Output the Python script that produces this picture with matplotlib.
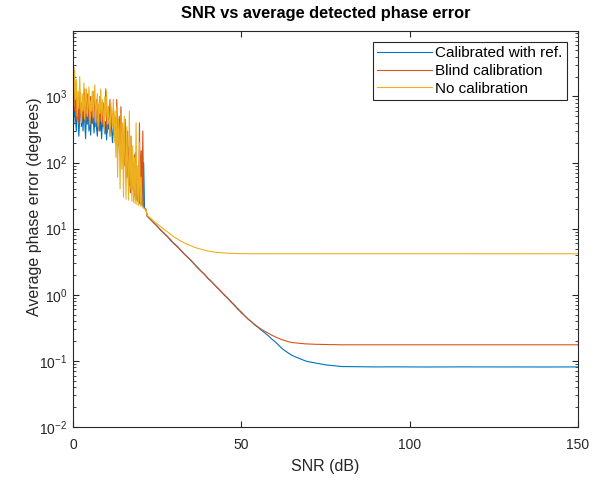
#!/usr/bin/env python3
"""SNR vs average detected phase error, three calibration modes (log y)."""
import numpy as np
import matplotlib
matplotlib.use("Agg")
import matplotlib.pyplot as plt
from matplotlib.ticker import LogLocator, NullFormatter

plt.rcParams["font.family"] = ["Liberation Sans", "DejaVu Sans"]
plt.rcParams["mathtext.fontset"] = "custom"
plt.rcParams["mathtext.rm"] = "Liberation Sans"
plt.rcParams["mathtext.it"] = "Liberation Sans"

# --- noisy low-SNR part, 0 .. 21.75 dB in 0.25 dB steps ---------------------
snr_noisy = np.arange(0, 22, 0.25)

blue_noisy = [
    620, 380, 900, 450, 300, 700, 520, 250, 480, 820, 350, 560,
    300, 650, 420, 230, 540, 380, 720, 300, 460, 260, 600, 390,
    520, 280, 430, 700, 330, 250, 560, 380, 300, 480, 230, 410,
    350, 600, 270, 420, 220, 500, 320, 380, 250, 450, 300, 200,
    380, 260, 420, 190, 300, 140, 350, 230, 280, 170, 320, 210,
    150, 260, 90, 200, 60, 170, 120, 45, 160, 35, 110, 40,
    90, 32, 140, 28, 75, 26, 60, 24, 130, 23, 150, 22,
    100, 21, 19.5, 19,
]
red_noisy = [
    900, 2800, 600, 1400, 450, 1000, 700, 380, 1200, 550, 800, 420,
    950, 500, 1300, 380, 700, 1100, 450, 820, 350, 1000, 520, 680,
    400, 1200, 600, 350, 900, 480, 750, 300, 1000, 420, 650, 380,
    800, 330, 600, 1300, 420, 280, 700, 450, 900, 300, 550, 380,
    650, 260, 480, 200, 900, 320, 180, 500, 250, 700, 150, 380,
    200, 90, 450, 120, 60, 300, 45, 180, 35, 250, 40, 100,
    30, 130, 28, 80, 27, 60, 25, 400, 24, 150, 23, 300,
    21, 20.5, 20, 19.5,
]
yellow_noisy = [
    1500, 700, 2500, 900, 1800, 500, 1200, 650, 2000, 800, 400, 1100,
    600, 1600, 450, 900, 1300, 500, 750, 1400, 380, 850, 600, 1200,
    480, 950, 1500, 400, 700, 1100, 350, 800, 550, 1300, 420, 900,
    600, 300, 1000, 500, 1200, 380, 700, 450, 250, 800, 550, 350,
    900, 200, 600, 120, 700, 60, 450, 300, 40, 550, 80, 400,
    30, 500, 150, 28, 350, 90, 27, 600, 40, 250, 26, 180,
    25, 120, 24, 400, 23, 90, 22.5, 200, 22, 60, 21.5, 21,
    20.5, 20, 19.5, 19,
]

# --- smooth part: 22 .. 80 dB every 1 dB, then 85 .. 150 dB every 5 dB ------
snr_smooth = list(range(22, 81)) + list(range(85, 151, 5))

blue_smooth = [
    15.5, 13.9, 12.2, 11.0, 9.5, 8.6, 7.7, 6.6, 6.0, 5.4,
    4.7, 4.15, 3.75, 3.3, 2.95, 2.55, 2.3, 2.05, 1.78, 1.6,
    1.43, 1.25, 1.13, 0.98, 0.89, 0.77, 0.70, 0.60, 0.55, 0.48,
    0.43, 0.39, 0.35, 0.32, 0.29, 0.265, 0.24, 0.215, 0.195, 0.175,
    0.155, 0.142, 0.131, 0.122, 0.115, 0.110, 0.105, 0.100, 0.097, 0.095,
    0.093, 0.091, 0.089, 0.087, 0.086, 0.085, 0.084, 0.083, 0.082,
    0.0815, 0.081, 0.0812, 0.081, 0.0808, 0.081, 0.0811, 0.081, 0.0809,
    0.081, 0.081, 0.0808, 0.081, 0.081,
]
red_smooth = [
    15.6, 13.7, 12.4, 10.8, 9.7, 8.5, 7.6, 6.8, 5.9, 5.3,
    4.75, 4.2, 3.7, 3.35, 2.9, 2.62, 2.28, 2.05, 1.8, 1.62,
    1.41, 1.27, 1.11, 1.0, 0.87, 0.79, 0.68, 0.62, 0.53, 0.485,
    0.43, 0.39, 0.355, 0.325, 0.30, 0.28, 0.263, 0.245, 0.232, 0.22,
    0.21, 0.202, 0.195, 0.19, 0.187, 0.185, 0.183, 0.181, 0.180, 0.179,
    0.178, 0.178, 0.177, 0.177, 0.176, 0.176, 0.176, 0.175, 0.175,
    0.175, 0.175, 0.1755, 0.175, 0.1748, 0.175, 0.1752, 0.175, 0.175,
    0.1748, 0.175, 0.175, 0.1752, 0.175,
]
yellow_smooth = [
    16.0, 14.5, 13.0, 11.8, 10.8, 9.8, 9.0, 8.2, 7.5, 7.0,
    6.5, 6.1, 5.8, 5.5, 5.25, 5.05, 4.9, 4.75, 4.6, 4.5,
    4.42, 4.36, 4.32, 4.28, 4.25, 4.23, 4.21, 4.20, 4.19, 4.19,
    4.18, 4.18, 4.18, 4.18, 4.17, 4.17, 4.17, 4.17, 4.17, 4.17,
    4.17, 4.17, 4.17, 4.17, 4.17, 4.17, 4.17, 4.17, 4.17, 4.17,
    4.17, 4.17, 4.17, 4.17, 4.17, 4.17, 4.17, 4.17, 4.17,
    4.17, 4.17, 4.17, 4.17, 4.17, 4.17, 4.17, 4.17, 4.17,
    4.17, 4.17, 4.17, 4.17, 4.17,
]

labels = ["Calibrated with ref.", "Blind calibration", "No calibration"]
colors = ["#0072BD", "#D95319", "#EDB120"]

snr = np.concatenate([snr_noisy, snr_smooth])
series = [
    np.concatenate([blue_noisy, blue_smooth]),
    np.concatenate([red_noisy, red_smooth]),
    np.concatenate([yellow_noisy, yellow_smooth]),
]

fig = plt.figure(figsize=(6.03, 4.83), dpi=100)
ax = fig.add_axes([0.121, 0.116, 0.8375, 0.82])

for y, c, lab in zip(series, colors, labels):
    ax.plot(snr, y, color=c, lw=0.8, label=lab)

ax.set_yscale("log")
ax.set_xlim(0, 150)
ax.set_ylim(1e-2, 9.8e3)   # top tick (10^4) is unlabelled in the original
ax.set_xticks([0, 50, 100, 150])
ax.yaxis.set_major_locator(LogLocator(base=10, numticks=10))
ax.yaxis.set_minor_locator(LogLocator(base=10, subs=np.arange(2, 10), numticks=20))
ax.yaxis.set_minor_formatter(NullFormatter())

axc = "#262626"
for sp in ax.spines.values():
    sp.set_color(axc)
    sp.set_linewidth(0.8)
ax.tick_params(which="both", direction="in", top=True, right=True,
               colors=axc, labelsize=10)
ax.tick_params(which="major", length=4)
ax.tick_params(which="minor", length=2)
ax.tick_params(axis="x", pad=8)
ax.tick_params(axis="y", pad=4)

ax.set_xlabel("SNR (dB)", fontsize=11.5, color=axc, labelpad=5)
ax.set_ylabel("Average phase error (degrees)", fontsize=11.5, color=axc)
# the original label sits a bit above the axes' middle
ax.yaxis.set_label_coords(-0.062, 0.556)
ax.set_title("SNR vs average detected phase error", fontsize=11.8,
             fontweight="bold", color="black", pad=9)

leg = ax.legend(loc="upper right", fontsize=11, handlelength=3.6,
                labelspacing=0.25, borderaxespad=0.7, fancybox=False,
                framealpha=1, borderpad=0.3, handletextpad=0.2)
leg.get_frame().set_edgecolor(axc)
leg.get_frame().set_linewidth(0.8)

fig.savefig("out.png", dpi=100)
